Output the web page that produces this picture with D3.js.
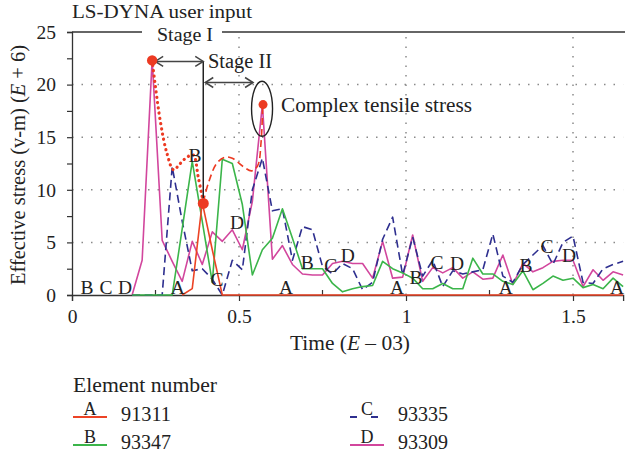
<!DOCTYPE html>
<html><head><meta charset="utf-8">
<script src="https://cdn.jsdelivr.net/npm/d3@7"></script>
<style>
html,body{margin:0;padding:0;background:#fff;}
svg{display:block;font-family:"Liberation Serif","Times New Roman",serif;}
</style></head>
<body>
<svg id="chart" width="625" height="455"></svg>
<script>
// ---- data ----
const times = [0,0.03,0.06,0.09,0.12,0.15,0.18,0.21,0.24,0.27,0.30,0.33,0.36,0.39,0.42,0.45,0.48,0.51,0.54,0.57,0.60,0.63,0.66,0.69,0.72,0.75,0.78,0.81,0.84,0.87,0.90,0.93,0.96,0.99,1.02,1.05,1.08,1.11,1.14,1.17,1.20,1.23,1.26,1.29,1.32,1.35,1.38,1.41,1.44,1.47,1.50,1.53,1.56,1.59,1.62,1.65];
const seriesA = [null,null,null,null,null,null,null,null,null,null,null,0,0.6,8.8,4.3,0,0,0,0,0,0,0,0,0,0,0,0,0,0,0,0,0,0,0,0,0,0,0,0,0,0,0,0,0,0,0,0,0,0,0,0,0,0,0,0,0];
const seriesB = [null,null,null,null,null,null,0,0,0,0,0,6.3,12.7,7.0,1.2,12.9,12.5,8.6,1.9,4.3,5.4,8.2,5.4,2.5,2.5,2.5,1.1,0.3,0.6,0.8,0.9,3.2,2.5,2.1,1.6,0.6,0.6,1.1,0.6,0.6,3.5,2.0,2.0,1.3,1.0,2.3,0.5,1.1,1.8,1.4,1.6,0.7,1.0,0.6,1.6,0.8];
const seriesC = [null,null,null,null,null,null,0,0,0,0,12.2,7.0,2.3,2.5,1.5,0,3.3,2.4,10.0,13.0,8.0,8.2,3.3,6.5,6.2,2.7,2.0,3.0,2.5,0.5,1.2,5.3,7.4,1.9,5.5,1.8,3.3,0.8,2.3,2.0,2.2,2.4,5.8,1.8,1.2,2.9,3.8,4.7,2.9,5.0,5.6,1.2,1.1,2.5,2.9,3.2];
const seriesD = [null,null,null,null,null,null,0,3.3,22.4,5.2,3.2,1.3,5.1,2.9,6.0,5.1,6.2,4.3,8.9,18.1,3.4,4.7,2.9,2.0,1.9,1.9,3.0,3.2,3.0,3.0,1.6,5.1,1.6,1.7,5.7,1.3,2.6,2.1,2.6,1.6,2.2,1.5,1.6,3.8,1.0,3.0,2.2,2.6,3.2,3.3,3.3,0.8,2.4,1.4,2.2,1.9];
const seriesKeys = ["A","B","C","D"];
const elementNumbers = ["91311","93347","93335","93309"];
const xTicks = [0,0.5,1,1.5];
const xTickLabels = ["0","0.5","1","1.5"];
const yTicks = [0,5,10,15,20,25];
// user-input envelope (stage curves)
const envDotted = [[0.24,22.3],[0.264,16.6],[0.284,13.5],[0.304,11.9],[0.324,12.5],[0.344,13.1],[0.363,13.3],[0.378,11.2],[0.393,8.8]];
const envDashed = [[0.393,8.8],[0.408,10.6],[0.433,12.5],[0.458,13.1],[0.48,13.0],[0.513,12.2],[0.538,11.8],[0.556,12.3],[0.566,14.5],[0.571,18.1]];
const keyPoints = [[0.24,22.3],[0.393,8.7],[0.572,18.1]];
// curve letter labels [key, t, v]
const curveLabels = [["B",0.045,0.76],["C",0.102,0.76],["D",0.159,0.76],["A",0.317,0.76],
 ["B",0.368,13.3],["C",0.434,1.5],["D",0.494,6.9],["A",0.641,0.76],
 ["B",0.704,3.1],["C",0.775,2.8],["D",0.826,3.8],["A",0.973,0.76],
 ["B",1.03,1.7],["C",1.093,3.1],["D",1.153,3.0],["A",1.299,0.76],
 ["B",1.359,2.85],["C",1.422,4.6],["D",1.488,3.8],["A",1.632,0.76]];

// ---- styles ----
const colors = {A:"#ec4325",B:"#3bb54a",C:"#2e2f8f",D:"#d2469d"};
const dashes = {A:null,B:null,C:"8,4.5",D:null};
const FS = 20;

const svg = d3.select("#chart");
const x = d3.scaleLinear().domain([0,1.65]).range([72,623.1]);
const y = d3.scaleLinear().domain([0,25]).range([295,32]);

function fitText(sel,len){ sel.attr("textLength",len).attr("lengthAdjust","spacingAndGlyphs"); return sel; }

// grid
const g = svg.append("g");
g.selectAll(".hg").data([5,10,15,20]).enter().append("line")
 .attr("x1",x(0)).attr("x2",x(1.65)).attr("y1",d=>y(d)).attr("y2",d=>y(d))
 .attr("stroke","#8a8a8a").attr("stroke-width",1.5).attr("stroke-dasharray","1.5,8");
g.selectAll(".vg").data([0.5,1,1.5]).enter().append("line")
 .attr("x1",d=>x(d)).attr("x2",d=>x(d)).attr("y1",y(0)).attr("y2",y(25))
 .attr("stroke","#8a8a8a").attr("stroke-width",1.5).attr("stroke-dasharray","1.5,8");

// axes
const yAxis = d3.axisLeft(y).tickValues(d3.range(0,25.01,2.5)).tickSize(5).tickFormat(d=>yTicks.includes(d)?String(d):"");
const ya = svg.append("g").attr("transform",`translate(${x(0)},0)`).call(yAxis);
ya.select(".domain").attr("stroke","#333").attr("stroke-width",1.3);
ya.selectAll(".tick line").attr("stroke","#333").attr("stroke-width",1.2);
ya.selectAll(".tick text").attr("font-size",19.5).attr("font-family","Liberation Serif").attr("fill","#222").attr("x",-16);

const xAxis = d3.axisBottom(x).tickValues(xTicks).tickSize(6).tickFormat((d,i)=>xTickLabels[i]);
const xa = svg.append("g").attr("transform",`translate(0,${y(0)})`).call(xAxis);
xa.select(".domain").attr("stroke","#333").attr("stroke-width",1.3);
xa.selectAll(".tick line").attr("stroke","#333").attr("stroke-width",1.2);
xa.selectAll(".tick text").attr("font-size",19.5).attr("font-family","Liberation Serif").attr("fill","#222").attr("y",14);
// inner minor ticks
svg.selectAll(".mt").data([0.25,0.75,1.25]).enter().append("line")
 .attr("x1",d=>x(d)).attr("x2",d=>x(d)).attr("y1",y(0)).attr("y2",y(0)-5)
 .attr("stroke","#333").attr("stroke-width",1.2);

// top border (broken for Stage I label)
svg.append("line").attr("x1",x(0)).attr("x2",142).attr("y1",y(25)).attr("y2",y(25)).attr("stroke","#333").attr("stroke-width",1.3);
svg.append("line").attr("x1",222).attr("x2",625).attr("y1",y(25)).attr("y2",y(25)).attr("stroke","#333").attr("stroke-width",1.3);

// series
const seriesData = {A:seriesA,B:seriesB,C:seriesC,D:seriesD};
const line = d3.line().defined(d=>d[1]!==null).x(d=>x(d[0])).y(d=>y(d[1]));
["D","C","B","A"].forEach(k=>{
  const pts = times.map((t,i)=>[t,seriesData[k][i]]);
  svg.append("path").datum(pts).attr("d",line).attr("fill","none")
   .attr("stroke",colors[k]).attr("stroke-width",1.6)
   .attr("stroke-dasharray",dashes[k]).attr("stroke-linejoin","round");
});

// envelope curves
const smooth = d3.line().x(d=>x(d[0])).y(d=>y(d[1])).curve(d3.curveCatmullRom);
svg.append("path").datum(envDotted).attr("d",smooth).attr("fill","none")
 .attr("stroke","#ec3a22").attr("stroke-width",3.2).attr("stroke-linecap","round").attr("stroke-dasharray","0.1,5.2");
svg.append("path").datum(envDashed).attr("d",smooth).attr("fill","none")
 .attr("stroke","#ec3a22").attr("stroke-width",1.6).attr("stroke-dasharray","7,4");

// annotations: vertical line, arrows, ellipse
const ink = "#222";
const xs1 = x(0.24), xs2 = x(0.393), xs3 = x(0.578);
const ya1 = y(22.2), ya2 = y(20.2);
svg.append("line").attr("x1",xs2).attr("x2",xs2).attr("y1",ya1).attr("y2",y(8.7)).attr("stroke",ink).attr("stroke-width",1.5);
function dblArrow(x1,x2,yy){
  svg.append("line").attr("x1",x1).attr("x2",x2).attr("y1",yy).attr("y2",yy).attr("stroke","#444").attr("stroke-width",1.6);
  svg.append("path").attr("d",`M${x1+8},${yy-5}L${x1},${yy}L${x1+8},${yy+5}`).attr("fill","none").attr("stroke","#444").attr("stroke-width",1.5);
  svg.append("path").attr("d",`M${x2-8},${yy-5}L${x2},${yy}L${x2-8},${yy+5}`).attr("fill","none").attr("stroke","#444").attr("stroke-width",1.5);
}
dblArrow(xs1+3,xs2,ya1);
dblArrow(xs2+2,xs3-12,ya2);
svg.append("ellipse").attr("cx",x(0.569)).attr("cy",y(17.7)).attr("rx",10.5).attr("ry",27.5)
 .attr("fill","none").attr("stroke",ink).attr("stroke-width",1.4);

// key points
svg.selectAll(".kp").data(keyPoints).enter().append("circle")
 .attr("cx",d=>x(d[0])).attr("cy",d=>y(d[1])).attr("r",(d,i)=>[5.2,5.5,4.5][i]).attr("fill","#ec3a22");

// curve labels
svg.selectAll(".cl").data(curveLabels).enter().append("text")
 .attr("x",d=>x(d[1])).attr("y",d=>y(d[2])).attr("dy","0.35em").attr("text-anchor","middle")
 .attr("font-size",19.5).attr("fill","#222").text(d=>d[0]);

// text annotations
fitText(svg.append("text").attr("x",72).attr("y",18).attr("font-size",19).attr("fill","#222").text("LS-DYNA user input"),180);
fitText(svg.append("text").attr("x",157).attr("y",41).attr("font-size",19.5).attr("fill","#222").text("Stage I"),56);
fitText(svg.append("text").attr("x",208).attr("y",68).attr("font-size",FS).attr("fill","#222").text("Stage II"),64);
fitText(svg.append("text").attr("x",281).attr("y",112).attr("font-size",FS).attr("fill","#222").text("Complex tensile stress"),191);

// axis titles
const yt = svg.append("text").attr("transform",`translate(25,165) rotate(-90)`).attr("text-anchor","middle").attr("font-size",FS).attr("fill","#222");
yt.append("tspan").text("Effective stress (v-m) (");
yt.append("tspan").attr("font-style","italic").text("E");
yt.append("tspan").text(" + 6)");
fitText(yt,240);
const xt = svg.append("text").attr("x",290).attr("y",350).attr("font-size",FS).attr("fill","#222");
xt.append("tspan").text("Time (");
xt.append("tspan").attr("font-style","italic").text("E");
xt.append("tspan").text(" \u2013 03)");
fitText(xt,120);

// legend
fitText(svg.append("text").attr("x",73).attr("y",392).attr("font-size",FS).attr("fill","#222").text("Element number"),144);
const legPos = [[73,417],[73,445],[350,417],[350,445]];
seriesKeys.forEach((k,i)=>{
  const [lx,ly] = legPos[i];
  svg.append("line").attr("x1",lx).attr("x2",lx+34).attr("y1",ly).attr("y2",ly)
   .attr("stroke",colors[k]).attr("stroke-width",1.8).attr("stroke-dasharray",k==="C"?"7,14,7":null);
  svg.append("text").attr("x",lx+17).attr("y",ly-2).attr("text-anchor","middle").attr("font-size",18).attr("fill","#222").text(k);
  fitText(svg.append("text").attr("x",lx+48).attr("y",ly+4).attr("font-size",FS).attr("fill","#222").text(elementNumbers[i]),50);
});
</script>
</body></html>
